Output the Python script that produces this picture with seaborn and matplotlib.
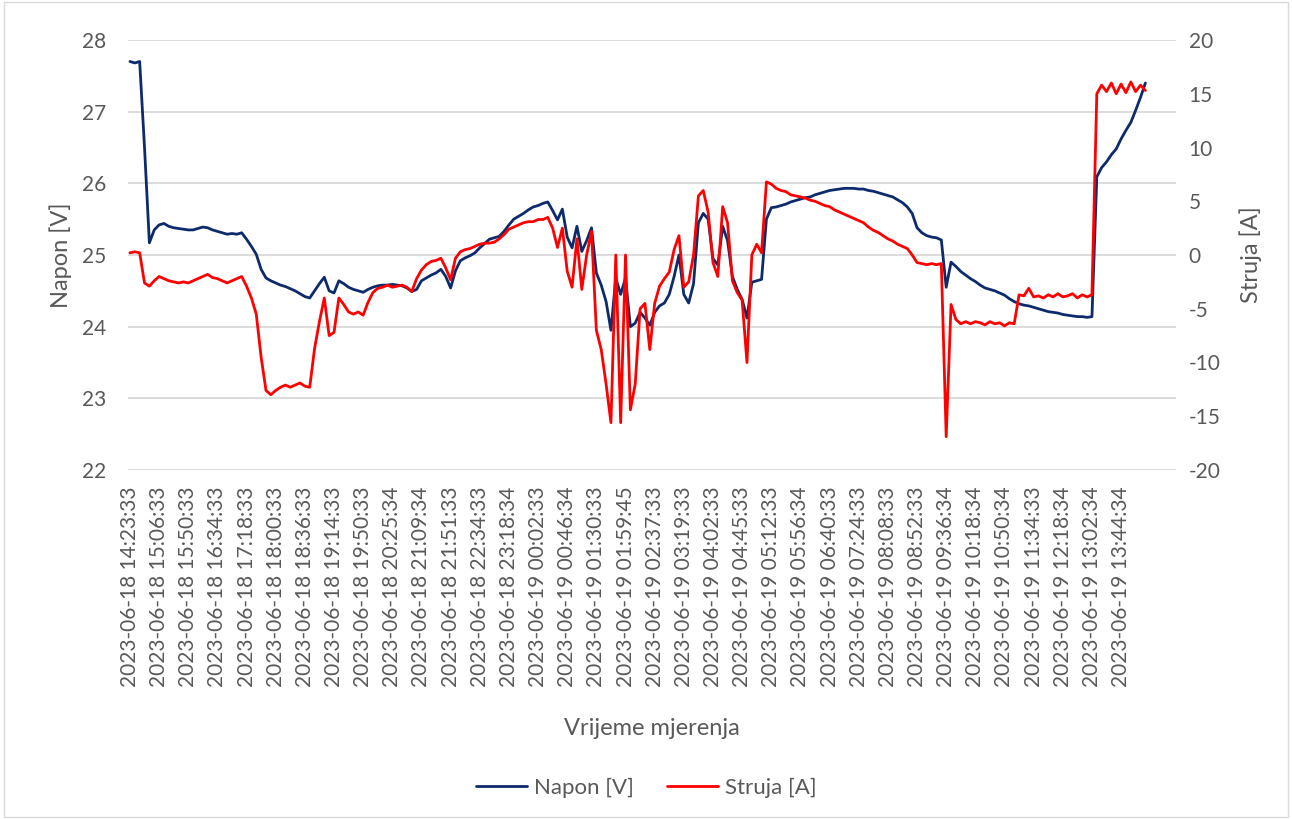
import numpy as np
import pandas as pd
import matplotlib
matplotlib.use('Agg')
import matplotlib.pyplot as plt
import seaborn as sns
from matplotlib.lines import Line2D

# oznake vremena (svaki 6. uzorak)
time_labels = [
    '2023-06-18 14:23:33', '2023-06-18 15:06:33', '2023-06-18 15:50:33', '2023-06-18 16:34:33',
    '2023-06-18 17:18:33', '2023-06-18 18:00:33', '2023-06-18 18:36:33', '2023-06-18 19:14:33',
    '2023-06-18 19:50:33', '2023-06-18 20:25:34', '2023-06-18 21:09:34', '2023-06-18 21:51:33',
    '2023-06-18 22:34:33', '2023-06-18 23:18:34', '2023-06-19 00:02:33', '2023-06-19 00:46:34',
    '2023-06-19 01:30:33', '2023-06-19 01:59:45', '2023-06-19 02:37:33', '2023-06-19 03:19:33',
    '2023-06-19 04:02:33', '2023-06-19 04:45:33', '2023-06-19 05:12:33', '2023-06-19 05:56:34',
    '2023-06-19 06:40:33', '2023-06-19 07:24:33', '2023-06-19 08:08:33', '2023-06-19 08:52:33',
    '2023-06-19 09:36:34', '2023-06-19 10:18:34', '2023-06-19 10:50:34', '2023-06-19 11:34:33',
    '2023-06-19 12:18:34', '2023-06-19 13:02:34', '2023-06-19 13:44:34',
]
label_step = 6

napon = [
    27.70, 27.68, 27.70, 26.50, 25.17, 25.35, 25.42, 25.44, 25.40, 25.38,
    25.37, 25.36, 25.35, 25.35, 25.37, 25.39, 25.38, 25.35, 25.33, 25.31,
    25.29, 25.30, 25.29, 25.31, 25.22, 25.12, 25.01, 24.80, 24.68, 24.64,
    24.61, 24.58, 24.56, 24.53, 24.50, 24.46, 24.42, 24.40, 24.50, 24.60,
    24.69, 24.50, 24.47, 24.64, 24.60, 24.55, 24.52, 24.50, 24.48, 24.52,
    24.55, 24.57, 24.58, 24.58, 24.59, 24.58, 24.57, 24.54, 24.49, 24.52,
    24.64, 24.68, 24.72, 24.75, 24.80, 24.70, 24.54, 24.78, 24.92, 24.96,
    24.99, 25.03, 25.10, 25.16, 25.22, 25.24, 25.26, 25.33, 25.42, 25.50,
    25.54, 25.58, 25.63, 25.67, 25.69, 25.72, 25.74, 25.62, 25.49, 25.64,
    25.25, 25.10, 25.40, 25.05, 25.20, 25.38, 24.75, 24.58, 24.35, 23.95,
    24.68, 24.45, 24.68, 24.00, 24.05, 24.20, 24.12, 24.02, 24.20, 24.29,
    24.33, 24.45, 24.70, 25.00, 24.45, 24.33, 24.60, 25.45, 25.58, 25.50,
    24.95, 24.86, 25.40, 25.20, 24.70, 24.52, 24.38, 24.12, 24.62, 24.64,
    24.66, 25.50, 25.66, 25.67, 25.69, 25.71, 25.74, 25.76, 25.78, 25.80,
    25.81, 25.84, 25.86, 25.88, 25.90, 25.91, 25.92, 25.93, 25.93, 25.93,
    25.92, 25.92, 25.90, 25.89, 25.87, 25.85, 25.83, 25.81, 25.77, 25.73,
    25.67, 25.58, 25.38, 25.31, 25.27, 25.25, 25.24, 25.21, 24.55, 24.90,
    24.84, 24.77, 24.72, 24.67, 24.63, 24.58, 24.54, 24.52, 24.50, 24.47,
    24.44, 24.39, 24.35, 24.32, 24.30, 24.29, 24.27, 24.25, 24.23, 24.21,
    24.20, 24.19, 24.17, 24.16, 24.15, 24.14, 24.14, 24.13, 24.14, 26.09,
    26.22, 26.30, 26.40, 26.48, 26.62, 26.74, 26.85, 27.02, 27.20, 27.40,
]

struja = [
    0.2, 0.3, 0.2, -2.6, -2.9, -2.4, -2.0, -2.2, -2.4, -2.5,
    -2.6, -2.5, -2.6, -2.4, -2.2, -2.0, -1.8, -2.1, -2.2, -2.4,
    -2.6, -2.4, -2.2, -2.0, -2.9, -4.0, -5.5, -9.5, -12.6, -13.0,
    -12.6, -12.3, -12.1, -12.3, -12.1, -11.9, -12.2, -12.3, -8.7, -6.2,
    -4.0, -7.5, -7.2, -4.0, -4.6, -5.3, -5.5, -5.3, -5.6, -4.4,
    -3.5, -3.1, -3.0, -2.8, -3.0, -2.9, -2.8, -3.0, -3.4, -2.2,
    -1.4, -0.9, -0.6, -0.5, -0.3, -1.2, -2.3, -0.3, 0.3, 0.5,
    0.6, 0.8, 1.0, 1.1, 1.1, 1.2, 1.5, 1.9, 2.4, 2.6,
    2.8, 3.0, 3.1, 3.1, 3.3, 3.3, 3.5, 2.5, 0.7, 2.5,
    -1.5, -3.0, 1.5, -3.2, 0.0, 2.2, -7.0, -8.8, -12.0, -15.6,
    0.0, -15.6, 0.0, -14.4, -12.0, -5.0, -4.5, -8.8, -4.5, -2.9,
    -2.2, -1.6, 0.5, 1.8, -3.0, -2.5, 0.0, 5.5, 6.0, 4.0,
    -0.7, -2.0, 4.5, 3.0, -2.4, -3.5, -4.2, -10.0, 0.0, 1.0,
    0.2, 6.8, 6.6, 6.2, 6.0, 5.9, 5.6, 5.5, 5.4, 5.3,
    5.1, 5.0, 4.8, 4.6, 4.5, 4.2, 4.0, 3.8, 3.6, 3.4,
    3.2, 3.0, 2.6, 2.3, 2.1, 1.8, 1.5, 1.3, 1.0, 0.8,
    0.6, 0.0, -0.7, -0.8, -0.9, -0.8, -0.9, -0.8, -16.9, -4.6,
    -6.0, -6.4, -6.2, -6.4, -6.2, -6.3, -6.5, -6.2, -6.4, -6.3,
    -6.6, -6.3, -6.4, -3.7, -3.8, -3.1, -3.9, -3.8, -4.0, -3.7,
    -3.9, -3.6, -3.9, -3.8, -3.6, -4.0, -3.7, -3.9, -3.7, 15.0,
    15.8, 15.2, 16.0, 15.0, 15.9, 15.1, 16.1, 15.2, 15.8, 15.3,
]

df = pd.DataFrame({'uzorak': np.arange(len(napon)), 'Napon [V]': napon, 'Struja [A]': struja})

sns.set_style('white')
plt.rcParams['font.family'] = ['Lato', 'DejaVu Sans']
plt.rcParams['axes.unicode_minus'] = False

blue = '#0d2a6a'
red = '#ff0000'
txt = '#595959'

fig = plt.figure(figsize=(12.92, 8.19), dpi=100)
ax = fig.add_axes([128 / 1292, 1 - 470 / 819, (1176 - 128) / 1292, 430 / 819])
ax2 = ax.twinx()

sns.lineplot(data=df, x='uzorak', y='Napon [V]', ax=ax, color=blue, linewidth=2.0)
sns.lineplot(data=df, x='uzorak', y='Struja [A]', ax=ax2, color=red, linewidth=2.0)

ax.set_ylim(22, 28)
ax.set_yticks(np.arange(22, 29, 1))
ax2.set_ylim(-20, 20)
ax2.set_yticks(np.arange(-20, 21, 5))
ax.set_xlim(-0.4, 215.3)
ax.set_xticks(np.arange(len(time_labels)) * label_step)
ax.set_xticklabels(time_labels, rotation=90)

ax.grid(axis='y', color='#d9d9d9', linewidth=1.3)
ax.grid(axis='x', visible=False)
for a in (ax, ax2):
    for s in a.spines.values():
        s.set_visible(False)

ax.tick_params(axis='y', length=0, pad=16, labelsize=15, labelcolor=txt)
ax.tick_params(axis='x', length=0, pad=12, labelsize=15, labelcolor=txt)
ax2.tick_params(axis='y', length=0, pad=9, labelsize=15, labelcolor=txt)

ax.set_xlabel('Vrijeme mjerenja', fontsize=17, color=txt, labelpad=22)
ax.set_ylabel('Napon [V]', fontsize=17, color=txt, labelpad=7)
ax2.set_ylabel('Struja [A]', fontsize=17, color=txt, labelpad=14, rotation=90)

handles = [Line2D([0], [0], color=blue, lw=2.0), Line2D([0], [0], color=red, lw=2.0)]
fig.legend(handles, ['Napon [V]', 'Struja [A]'], loc='center', bbox_to_anchor=(0.5, 1 - 788 / 819),
           ncol=2, frameon=False, fontsize=16, labelcolor=txt, handlelength=2.3,
           handletextpad=0.3, columnspacing=1.5)

fig.patches.append(plt.Rectangle((0.003, 0.003), 0.994, 0.994, transform=fig.transFigure,
                                 fill=False, edgecolor='#d9d9d9', linewidth=1))

fig.savefig('out.png', dpi=100)
